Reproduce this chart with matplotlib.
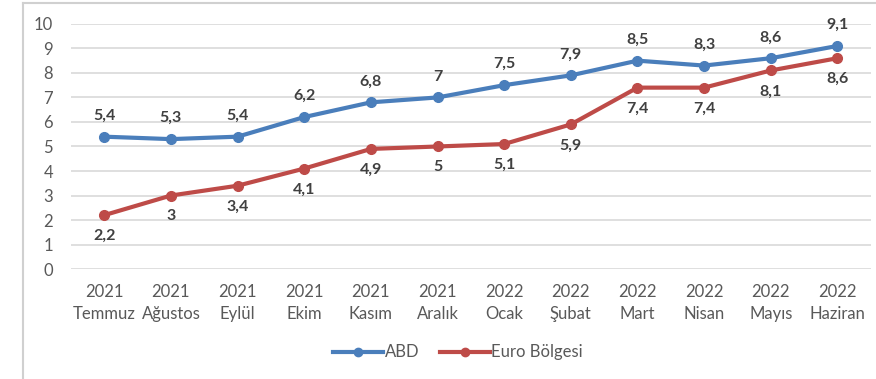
import matplotlib.pyplot as plt
from matplotlib.lines import Line2D

plt.rcParams['font.family'] = ['Lato', 'DejaVu Sans']

years = ['2021', '2021', '2021', '2021', '2021', '2021',
         '2022', '2022', '2022', '2022', '2022', '2022']
months = ['Temmuz', 'Ağustos', 'Eylül', 'Ekim', 'Kasım', 'Aralık',
          'Ocak', 'Şubat', 'Mart', 'Nisan', 'Mayıs', 'Haziran']
abd = [5.4, 5.3, 5.4, 6.2, 6.8, 7, 7.5, 7.9, 8.5, 8.3, 8.6, 9.1]
euro = [2.2, 3, 3.4, 4.1, 4.9, 5, 5.1, 5.9, 7.4, 7.4, 8.1, 8.6]

blue = '#4A7EBB'
red = '#BE4B48'
grid = '#D9D9D9'
txt = '#595959'
lbl = '#404040'

fig = plt.figure(figsize=(8.76, 3.79), dpi=100)
ax = fig.add_axes([0.081, 0.29, 0.913, 0.647])

x = range(len(months))
ax.plot(x, abd, color=blue, lw=3, marker='o', ms=7, label='ABD', zorder=3)
ax.plot(x, euro, color=red, lw=3, marker='o', ms=7, label='Euro Bölgesi', zorder=3)

def fmt(v):
    return ('%g' % v).replace('.', ',')

for i, v in enumerate(abd):
    ax.annotate(fmt(v), (i, v), xytext=(0, 10), textcoords='offset points',
                ha='center', va='bottom', fontsize=11.5, fontweight='bold', color=lbl)
for i, v in enumerate(euro):
    ax.annotate(fmt(v), (i, v), xytext=(0, -10), textcoords='offset points',
                ha='center', va='top', fontsize=11.5, fontweight='bold', color=lbl)

ax.set_xlim(-0.5, len(months) - 0.5)
ax.set_ylim(0, 10)
ax.set_yticks(range(0, 11))
ax.set_xticks(list(x))
ax.set_xticklabels([y + '\n' + m for y, m in zip(years, months)], linespacing=1.4)
ax.tick_params(axis='both', length=0, labelsize=12, colors=txt)
ax.tick_params(axis='y', pad=13)
ax.tick_params(axis='x', pad=11)
ax.grid(axis='y', color=grid, lw=1.2)
ax.set_axisbelow(True)
for s in ax.spines.values():
    s.set_visible(False)

handles = [Line2D([], [], color=blue, lw=3, marker='o', ms=6),
           Line2D([], [], color=red, lw=3, marker='o', ms=6)]
fig.legend(handles, ['ABD', 'Euro Bölgesi'], loc='center', bbox_to_anchor=(0.523, 0.07),
           ncol=2, frameon=False, fontsize=12, labelcolor=txt, handlelength=3.0,
           handletextpad=0.1, columnspacing=1.2)

# chart area border (left and top edges visible in the crop)
fig.add_artist(Line2D([0.026, 0.026], [0, 0.992], transform=fig.transFigure, color='#D0D0D0', lw=1.5))
fig.add_artist(Line2D([0.026, 1.0], [0.992, 0.992], transform=fig.transFigure, color='#D0D0D0', lw=1.5))

fig.savefig('out.png', dpi=100)
